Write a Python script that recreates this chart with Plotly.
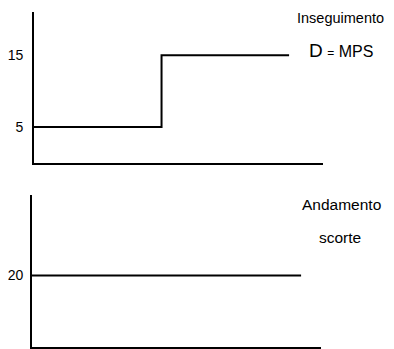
import plotly.graph_objects as go

# Data
periods_top = [0, 5, 10]
demand_mps = [5, 15, 15]
top_ticks = [5, 15]

periods_bottom = [0, 10]
stock = [20, 20]
bottom_ticks = [20]

OFF = 8  # page body margin
W, H = 394 - OFF, 349 - OFF

def px_x(x):
    return (x - OFF) / W

def px_y(y):
    return 1 - (y - OFF) / H

fig = go.Figure()
fig.add_trace(go.Scatter(x=periods_top, y=demand_mps, mode="lines", line=dict(color="black", width=2, shape="hv"),
                         xaxis="x", yaxis="y", cliponaxis=False, showlegend=False, hoverinfo="skip"))
fig.add_trace(go.Scatter(x=periods_bottom, y=stock, mode="lines", line=dict(color="black", width=2),
                         xaxis="x2", yaxis="y2", cliponaxis=False, showlegend=False, hoverinfo="skip"))

axis_common = dict(showline=True, linecolor="black", linewidth=2, showgrid=False, zeroline=False, mirror=False)
fam = "Liberation Sans, Arial, sans-serif"
font = dict(family=fam, size=14, color="black")

fig.update_layout(
    width=W, height=H, margin=dict(l=0, r=0, t=0, b=0),
    paper_bgcolor="white", plot_bgcolor="white",
    font=font,
    xaxis=dict(domain=[px_x(34), px_x(323)], range=[0, 11.33], showticklabels=False, ticks="", anchor="y", **axis_common),
    yaxis=dict(domain=[px_y(163), px_y(12)], range=[0, 21], tickvals=top_ticks, ticks="outside", ticklen=6,
               tickcolor="rgba(0,0,0,0)", anchor="x", tickfont=font, **axis_common),
    xaxis2=dict(domain=[px_x(32), px_x(321)], range=[0, 10.74], showticklabels=False, ticks="", anchor="y2", **axis_common),
    yaxis2=dict(domain=[px_y(347), px_y(195)], range=[0, 42.5], tickvals=bottom_ticks, ticks="outside", ticklen=4,
                tickcolor="rgba(0,0,0,0)", anchor="x2", tickfont=font, **axis_common),
)

ann = [
    ("Inseguimento", 340.5, 18, 14.5),
    ("<span style='font-size:19px'>D</span> <span style='font-size:12px'>=</span> MPS", 341, 50, 16),
    ("Andamento", 341.5, 204, 15.5),
    ("scorte", 340, 238, 15.5),
]
for text, x, y, s in ann:
    fig.add_annotation(text=text, x=px_x(x), y=px_y(y), xref="paper", yref="paper", showarrow=False,
                       xanchor="center", yanchor="middle", font=dict(family=fam, size=s, color="black"))

fig.write_html("out.html")
